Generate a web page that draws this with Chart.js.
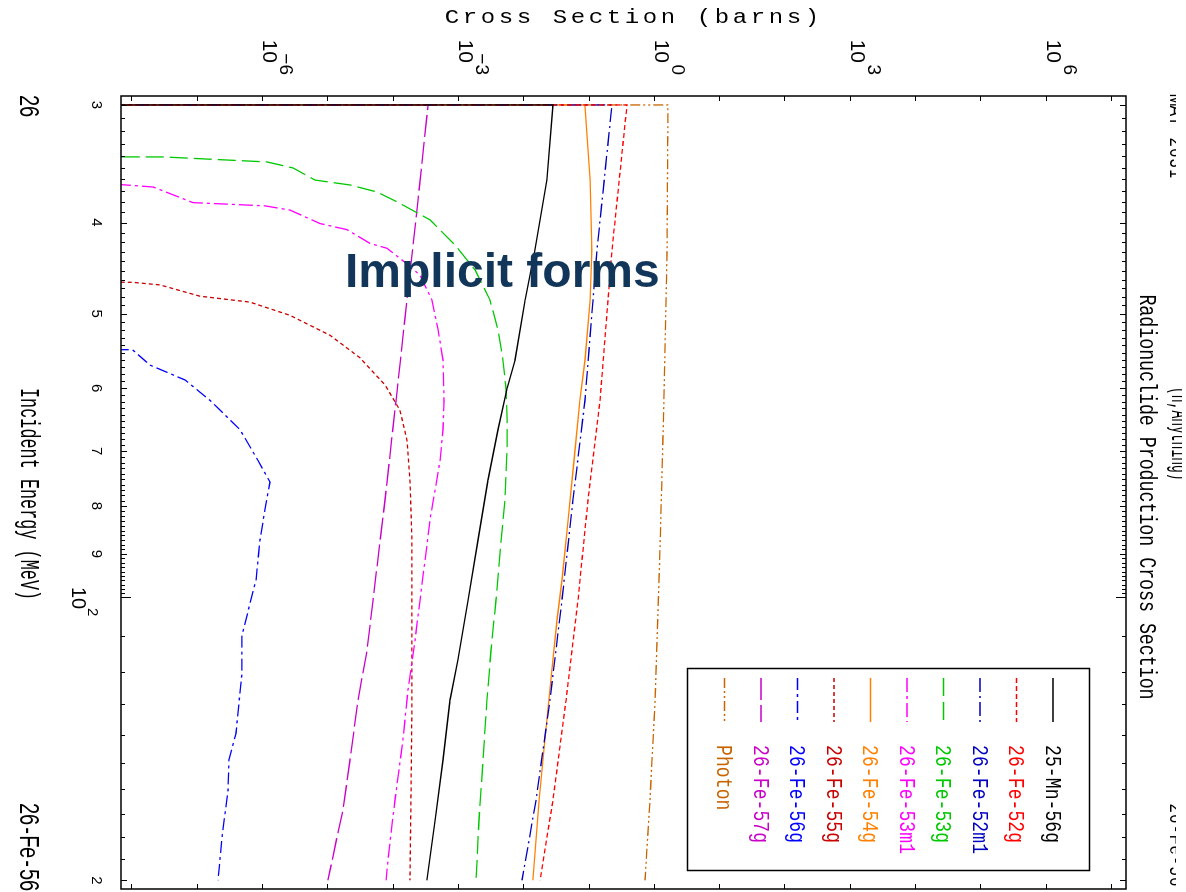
<!DOCTYPE html>
<html>
<head>
<meta charset="utf-8">
<script src="https://cdn.jsdelivr.net/npm/chart.js@4.4.1/dist/chart.umd.min.js"></script>
<style>
  html, body { margin: 0; padding: 0; background: #fff; overflow: hidden; }
  #page { position: relative; width: 1186px; height: 892px; overflow: hidden; background: #fff; }
  #wrap { position: absolute; left: 0; top: 0; width: 892px; height: 1186px;
          transform-origin: 0 0; transform: translate(1186px, 0) rotate(90deg); }
  #note { position: absolute; left: 345px; top: 247px; font: bold 48px "Liberation Sans", Arial, sans-serif;
          line-height: 48px; color: #12365a; white-space: nowrap; }
</style>
</head>
<body>
<div id="page">
  <div id="wrap"><canvas id="myChart" width="892" height="1186"></canvas></div>
  <div id="note">Implicit forms</div>
</div>
<script>
// 数据 (能量 MeV, 截面 barns)
var eMn56 = [30, 30, 36.05, 42.8, 48.35, 56.0, 60, 66.4, 75.1, 87.0, 100.7, 116.7, 128.7, 149.0, 172.6, 200];
var xsMn56 = [1e-12, 2.76e-2, 2.23e-2, 1.46e-2, 1.03e-2, 7.23e-3, 5.46e-3, 3.97e-3, 2.79e-3, 1.96e-3, 1.38e-3, 9.68e-4, 7.31e-4, 5.71e-4, 4.31e-4, 3.24e-4];

var eFe52g = [30, 30, 42.8, 61.8, 78.9, 100.7, 128.7, 164.3, 200];
var xsFe52g = [1e-12, 0.375, 0.221, 0.145, 9.48e-2, 6.67e-2, 4.37e-2, 2.76e-2, 1.75e-2];

var eFe52m1 = [30, 30, 42.8, 61.8, 78.9, 100.7, 128.7, 164.3, 200];
var xsFe52m1 = [1e-12, 0.221, 0.130, 8.53e-2, 5.58e-2, 3.79e-2, 2.48e-2, 1.52e-2, 9.25e-3];

var eFe53g = [34.05, 34.07, 34.49, 35.0, 36.05, 36.49, 37.12, 38.03, 39.74, 42.26, 44.92, 48.35, 52.0, 56.0, 60, 64.8, 69.8, 78.9, 87.0, 100.7, 113.9, 128.7, 149.0, 172.6, 200];
var xsFe53g = [1e-10, 3e-8, 1.15e-6, 2.88e-6, 6.25e-6, 2.15e-5, 5.57e-5, 1.13e-4, 3.61e-4, 8.71e-4, 1.77e-3, 2.99e-3, 3.97e-3, 4.73e-3, 5.26e-3, 5.46e-3, 5.46e-3, 5.08e-3, 4.42e-3, 3.70e-3, 3.10e-3, 2.69e-3, 2.34e-3, 2.03e-3, 1.83e-3];

var eFe53m1 = [36.1, 36.67, 38.1, 38.4, 38.8, 40.1, 40.7, 42.1, 42.6, 44.1, 45.5, 48.35, 52.0, 56.0, 61.8, 66.4, 71.6, 77.0, 82.8, 91.4, 100.7, 111.1, 125.6, 141.9, 164.3, 185.7, 200];
var xsFe53m1 = [1e-9, 2.07e-8, 8.47e-8, 1.07e-6, 2.59e-6, 7.46e-6, 1.93e-5, 4.36e-5, 7.93e-5, 1.50e-4, 2.54e-4, 3.87e-4, 4.79e-4, 5.71e-4, 5.92e-4, 5.71e-4, 5.14e-4, 4.31e-4, 3.61e-4, 3.03e-4, 2.54e-4, 2.13e-4, 1.66e-4, 1.39e-4, 1.05e-4, 8.51e-5, 7.66e-5];

var eFe54g = [30, 30, 36.05, 42.8, 48.35, 56.0, 61.8, 71.6, 82.8, 95.9, 105.8, 122.5, 141.9, 164.3, 200];
var xsFe54g = [1e-12, 8.53e-2, 0.102, 0.109, 0.102, 8.53e-2, 7.14e-2, 5.79e-2, 4.69e-2, 3.79e-2, 3.18e-2, 2.57e-2, 2.08e-2, 1.69e-2, 1.36e-2];

var eFe55g = [46.2, 46.3, 46.6, 47.9, 48.6, 50.2, 52.7, 55.7, 59.5, 63.3, 68.1, 75.1, 87.0, 105.8, 128.7, 160.4, 200];
var xsFe55g = [1e-10, 1e-8, 2.65e-8, 1.08e-7, 6.32e-7, 2.59e-6, 1.06e-5, 3.06e-5, 7.38e-5, 1.25e-4, 1.60e-4, 1.78e-4, 1.91e-4, 1.91e-4, 1.91e-4, 1.85e-4, 1.78e-4];

var eFe56g = [54.55, 54.6, 56.7, 58.8, 61.8, 66.4, 71.6, 75.5, 80.8, 87.0, 95.9, 109.8, 120.4, 139.5, 149.0, 160.4, 180, 200];
var xsFe56g = [1e-10, 1e-8, 1.86e-8, 6.40e-8, 1.54e-7, 4.45e-7, 8.38e-7, 1.28e-6, 1.07e-6, 9.00e-7, 7.82e-7, 4.76e-7, 4.76e-7, 3.86e-7, 3.01e-7, 2.91e-7, 2.36e-7, 2.05e-7];

var eFe57g = [30, 30, 37.8, 48.35, 61.8, 78.9, 100.7, 113.9, 128.7, 149.0, 168.4, 177.7, 200];
var xsFe57g = [1e-12, 3.37e-4, 2.37e-4, 1.60e-4, 1.09e-4, 7.38e-5, 4.84e-5, 3.92e-5, 2.85e-5, 2.15e-5, 1.68e-5, 1.41e-5, 9.89e-6];

var ePhoton = [30, 30, 42.8, 61.8, 89.2, 128.7, 164.3, 200];
var xsPhoton = [1e-12, 1.59, 1.54, 1.38, 1.20, 1.01, 0.844, 0.708];

// 标签
var seriesNames = ['25-Mn-56g', '26-Fe-52g', '26-Fe-52m1', '26-Fe-53g', '26-Fe-53m1', '26-Fe-54g', '26-Fe-55g', '26-Fe-56g', '26-Fe-57g', 'Photon'];
var seriesColors = ['#000000', '#ff0000', '#0000c0', '#00c800', '#ff00ff', '#ff8000', '#c80000', '#0000ff', '#c800c8', '#c86400'];
var seriesDash = [[], [5, 3], [14, 4, 2, 4], [18, 6], [14, 4, 3, 4], [], [4, 3], [12, 4, 3, 4], [22, 5], [10, 3, 2, 3, 2, 3]];
var seriesE = [eMn56, eFe52g, eFe52m1, eFe53g, eFe53m1, eFe54g, eFe55g, eFe56g, eFe57g, ePhoton];
var seriesXs = [xsMn56, xsFe52g, xsFe52m1, xsFe53g, xsFe53m1, xsFe54g, xsFe55g, xsFe56g, xsFe57g, xsPhoton];

// 坐标轴刻度
var energyLabelValues = [30, 40, 50, 60, 70, 80, 90, 100, 200];
var energyLabelText = ['3', '4', '5', '6', '7', '8', '9', '10^2', '2'];
var xsLabelValues = [1e-6, 1e-3, 1, 1e3, 1e6];
var xsLabelText = ['10^\u22126', '10^\u22123', '10^0', '10^3', '10^6'];

function pairs(xs, ys) {
    var out = [];
    for (var i = 0; i < xs.length; i++) {
        out.push({ x: xs[i], y: ys[i] });
    }
    return out;
}

function createDatasets() {
    var datasets = [];
    for (var i = 0; i < seriesNames.length; i++) {
        datasets.push({
            label: seriesNames[i],
            data: pairs(seriesE[i], seriesXs[i]),
            borderColor: seriesColors[i],
            borderDash: seriesDash[i],
            borderWidth: 1.3,
            pointRadius: 0,
            showLine: true,
            tension: 0,
            fill: false
        });
    }
    return datasets;
}

// 等宽文字
function drawMono(ctx, text, x, y, size, family, pitch, sx, align) {
    ctx.font = size + 'px ' + family;
    ctx.textAlign = 'left';
    ctx.textBaseline = 'alphabetic';
    var total = pitch * text.length;
    var x0 = align === 'center' ? x - total / 2 : (align === 'right' ? x - total : x);
    for (var i = 0; i < text.length; i++) {
        var w = ctx.measureText(text[i]).width * sx;
        ctx.save();
        ctx.translate(x0 + i * pitch + (pitch - w) / 2, y);
        ctx.scale(sx, 1);
        ctx.fillText(text[i], 0, 0);
        ctx.restore();
    }
}

var MONO = '"Liberation Mono", "DejaVu Sans Mono", monospace';
var SANS = '"Liberation Sans", Arial, sans-serif';

var framePlugin = {
    id: 'frame',
    afterDraw: function (chart) {
        var ctx = chart.ctx;
        var a = chart.chartArea;
        var xs = chart.scales.x;
        var ys = chart.scales.y;
        ctx.save();
        ctx.fillStyle = '#000';
        ctx.strokeStyle = '#000';

        // 边框
        ctx.lineWidth = 1.5;
        ctx.strokeRect(a.left, a.top, a.right - a.left, a.bottom - a.top);

        // 能量刻度
        ctx.lineWidth = 1;
        var eTicks = [];
        for (var e = 30; e <= 100; e++) eTicks.push(e);
        for (var e2 = 110; e2 <= 200; e2 += 10) eTicks.push(e2);
        eTicks.forEach(function (v) {
            var px = Math.round(xs.getPixelForValue(v)) + 0.5;
            var len = 4;
            if (v % 10 === 0 && v < 100) len = 6;
            if (v === 100) len = 10;
            if (v === 200) len = 6;
            ctx.beginPath();
            ctx.moveTo(px, a.bottom); ctx.lineTo(px, a.bottom - len);
            ctx.moveTo(px, a.top); ctx.lineTo(px, a.top + len);
            ctx.stroke();
        });

        // 截面刻度
        for (var d = -8; d <= 7; d++) {
            var py = Math.round(ys.getPixelForValue(Math.pow(10, d))) + 0.5;
            ctx.beginPath();
            ctx.moveTo(a.left, py); ctx.lineTo(a.left + 5, py);
            ctx.moveTo(a.right, py); ctx.lineTo(a.right - 5, py);
            ctx.stroke();
        }

        // 能量标签
        energyLabelValues.forEach(function (v, i) {
            var px = xs.getPixelForValue(v);
            var t = energyLabelText[i];
            if (t.indexOf('^') >= 0) {
                var p = t.split('^');
                ctx.font = '20px ' + SANS;
                ctx.textAlign = 'center';
                ctx.fillText(p[0], px + 1, 1114);
                ctx.font = '15px ' + SANS;
                ctx.textAlign = 'left';
                ctx.fillText(p[1], px + 11, 1098);
            } else {
                ctx.font = '15px ' + SANS;
                ctx.textAlign = 'center';
                ctx.fillText(t, px, 1094);
            }
        });

        // 截面标签
        xsLabelValues.forEach(function (v, i) {
            var py = ys.getPixelForValue(v);
            var p = xsLabelText[i].split('^');
            ctx.font = '21px ' + SANS;
            ctx.textAlign = 'right';
            ctx.fillText(p[0], 63, py);
            ctx.font = '19px ' + SANS;
            ctx.fillText(p[1], 75, py - 17);
        });

        // 标题
        drawMono(ctx, 'Radionuclide Production Cross Section', 497, 46, 23, MONO, 10.95, 0.8, 'center');
        drawMono(ctx, 'Incident Energy (MeV)', 494, 1165, 27, MONO, 10.1, 0.62, 'center');
        ctx.save();
        ctx.translate(23, 554);
        ctx.rotate(-Math.PI / 2);
        drawMono(ctx, 'Cross Section (barns)', 0, 0, 20, MONO, 18, 1.2, 'center');
        ctx.restore();

        drawMono(ctx, '26', 95, 1166, 28, SANS, 11, 0.72, 'left');
        drawMono(ctx, '26-Fe-56', 803, 1166, 28, SANS, 11, 0.72, 'left');

        // 上方被裁剪的文字
        ctx.save();
        ctx.beginPath();
        ctx.rect(0, 10, 892, 20);
        ctx.clip();
        drawMono(ctx, 'MAT 2631', 95, 16, 20, SANS, 10.5, 0.8, 'left');
        drawMono(ctx, '26-Fe-56', 803, 16, 20, SANS, 10.5, 0.8, 'left');
        ctx.restore();
        ctx.save();
        ctx.beginPath();
        ctx.rect(0, 4, 892, 20);
        ctx.clip();
        drawMono(ctx, '(n,Anything)', 387, 14, 26, MONO, 7.8, 0.5, 'left');
        ctx.restore();

        // 图例
        ctx.lineWidth = 1.5;
        ctx.strokeRect(668.5, 96.5, 202, 402);
        for (var k = 0; k < seriesNames.length; k++) {
            var ry = 133 + k * 36.5;
            ctx.save();
            ctx.strokeStyle = seriesColors[k];
            ctx.lineWidth = 1.3;
            ctx.setLineDash(seriesDash[k]);
            ctx.beginPath();
            ctx.moveTo(678, ry); ctx.lineTo(722, ry);
            ctx.stroke();
            ctx.restore();
            ctx.fillStyle = seriesColors[k];
            drawMono(ctx, seriesNames[k], 745, ry + 7, 22, MONO, 10.9, 0.82, 'left');
        }
        ctx.restore();
    }
};

var ctx = document.getElementById('myChart');
var myChart = new Chart(ctx, {
    type: 'scatter',
    data: {
        datasets: createDatasets()
    },
    options: {
        responsive: false,
        devicePixelRatio: 1,
        animation: false,
        layout: {
            padding: { left: 96, right: 3, top: 60, bottom: 121 }
        },
        plugins: {
            legend: { display: false },
            tooltip: { enabled: false }
        },
        scales: {
            x: { type: 'logarithmic', min: 29.35, max: 204.3, display: false },
            y: { type: 'logarithmic', min: 6.69e-9, max: 1.644e7, display: false }
        }
    },
    plugins: [framePlugin]
});
</script>
</body>
</html>
